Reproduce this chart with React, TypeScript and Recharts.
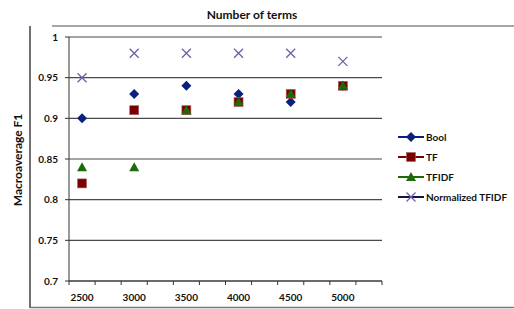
import { ScatterChart, Scatter, XAxis, YAxis, CartesianGrid } from "recharts";

const terms = [2500, 3000, 3500, 4000, 4500, 5000];
const bool = [0.9, 0.93, 0.94, 0.93, 0.92, 0.94];
const tf = [0.82, 0.91, 0.91, 0.92, 0.93, 0.94];
const tfidf = [0.84, 0.84, 0.91, 0.92, 0.93, 0.94];
const normTfidf = [0.95, 0.98, 0.98, 0.98, 0.98, 0.97];
const yTicks = [0.7, 0.75, 0.8, 0.85, 0.9, 0.95, 1];

const W = 514;
const H = 309;
const MARGIN = { top: 37, right: 132, bottom: 0, left: 0 };
const Y_AXIS_W = 69;
const X_AXIS_H = 28;

// excel-style category bands: one gap band after each label
const bandStep = (terms[1] - terms[0]) / 2;
const xDomain = [terms[0] - bandStep / 2, terms[terms.length - 1] + bandStep * 1.5];
const bandTicks = Array.from({ length: terms.length * 2 + 1 }, (_, i) => xDomain[0] + i * bandStep);
const bandPx = (W - MARGIN.left - MARGIN.right - Y_AXIS_W) / (bandTicks.length - 1);

const FONT = "Lato, 'Open Sans', sans-serif";

type Kind = "diamond" | "square" | "triangle" | "cross";

const series: { name: string; values: number[]; kind: Kind; color: string; line: string }[] = [
  { name: "Bool", values: bool, kind: "diamond", color: "#0b1f7d", line: "#0b1f7d" },
  { name: "TF", values: tf, kind: "square", color: "#7a0000", line: "#7a0000" },
  { name: "TFIDF", values: tfidf, kind: "triangle", color: "#1d6a08", line: "#1d6a08" },
  { name: "Normalized TFIDF", values: normTfidf, kind: "cross", color: "#6f5fa8", line: "#14144a" },
];

const Marker = ({ kind, cx, cy, color }: { kind: Kind; cx: number; cy: number; color: string }) => {
  if (kind === "diamond")
    return <path d={`M${cx},${cy - 5}L${cx + 5},${cy}L${cx},${cy + 5}L${cx - 5},${cy}Z`} fill={color} />;
  if (kind === "square")
    return <rect x={cx - 4.5} y={cy - 4.5} width={9} height={9} fill={color} stroke="#b06060" strokeWidth={0.6} />;
  if (kind === "triangle")
    return <path d={`M${cx},${cy - 5}L${cx + 5},${cy + 4}L${cx - 5},${cy + 4}Z`} fill={color} />;
  return (
    <path
      d={`M${cx - 4.5},${cy - 4.5}L${cx + 4.5},${cy + 4.5}M${cx + 4.5},${cy - 4.5}L${cx - 4.5},${cy + 4.5}`}
      stroke={color}
      strokeWidth={1.3}
    />
  );
};

// label sits in the middle of the band that starts at this tick
const BandTick = ({ x, y, payload }: any) => {
  const term = payload.value + bandStep / 2;
  if (!terms.includes(term)) return null;
  return (
    <text x={x + bandPx / 2} y={y + 14} textAnchor="middle" fontFamily={FONT} fontWeight={700} fontSize={10} fill="#111">
      {term}
    </text>
  );
};

const LegendBox = () => (
  <div
    style={{
      position: "absolute",
      left: 398,
      top: 127,
      fontFamily: FONT,
      fontWeight: 700,
      fontSize: 10,
      color: "#111",
    }}
  >
    {series.map((s) => (
      <div key={s.name} style={{ display: "flex", alignItems: "center", height: 20 }}>
        <svg width={28} height={12}>
          <line x1={0} y1={6} x2={26} y2={6} stroke={s.line} strokeWidth={2} />
          <Marker kind={s.kind} cx={13} cy={6} color={s.color} />
        </svg>
        <span>{s.name}</span>
      </div>
    ))}
  </div>
);

export default function App() {
  return (
    <div style={{ position: "absolute", left: 0, top: 0, width: W, height: H, background: "#fff" }}>
      <ScatterChart width={W} height={H} margin={MARGIN}>
        <CartesianGrid horizontal vertical={false} stroke="#4a4a4a" strokeWidth={1.2} />
        <XAxis
          type="number"
          dataKey="x"
          domain={xDomain}
          ticks={bandTicks}
          interval={0}
          tick={<BandTick />}
          tickSize={4}
          height={X_AXIS_H}
          stroke="#333"
        />
        <YAxis
          type="number"
          dataKey="y"
          domain={[0.7, 1]}
          ticks={yTicks}
          interval={0}
          width={Y_AXIS_W}
          tickSize={4}
          tickMargin={7}
          stroke="#333"
          tick={{ fill: "#111", fontSize: 10, fontWeight: 700, fontFamily: FONT }}
        />
        {series.map((s) => (
          <Scatter
            key={s.name}
            name={s.name}
            data={terms.map((t, i) => ({ x: t, y: s.values[i] }))}
            isAnimationActive={false}
            shape={(p: any) => <Marker kind={s.kind} cx={p.cx} cy={p.cy} color={s.color} />}
          />
        ))}
      </ScatterChart>
      <LegendBox />
      <svg width={W} height={H} style={{ position: "absolute", left: 0, top: 0, pointerEvents: "none" }}>
        <line x1={30} y1={26} x2={30} y2={308} stroke="#111" strokeWidth={1.2} />
        <line x1={30} y1={307.5} x2={W} y2={307.5} stroke="#777" strokeWidth={1.5} />
        <line x1={52} y1={26} x2={W} y2={26} stroke="#888" strokeWidth={1.5} />
        <text x={252} y={19} textAnchor="middle" fontFamily={FONT} fontWeight={700} fontSize={12} fill="#111">
          Number of terms
        </text>
        <text
          x={22}
          y={160}
          transform="rotate(-90 22 160)"
          textAnchor="middle"
          fontFamily={FONT}
          fontWeight={700}
          fontSize={12}
          fill="#111"
        >
          Macroaverage F1
        </text>
      </svg>
    </div>
  );
}
